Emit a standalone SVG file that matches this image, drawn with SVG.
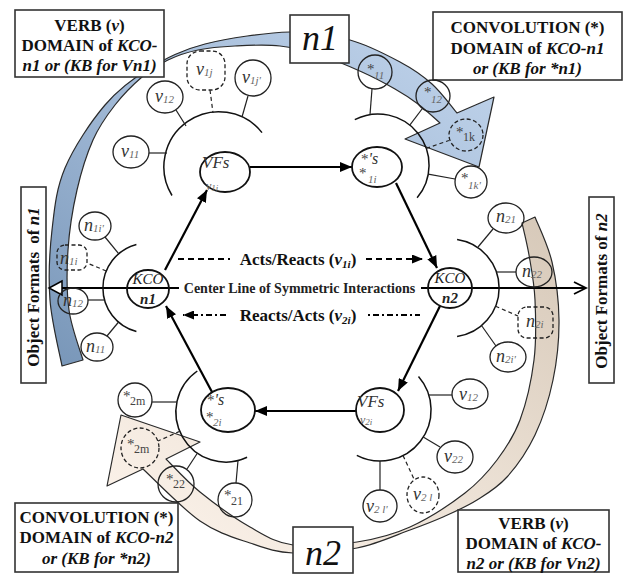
<svg xmlns="http://www.w3.org/2000/svg" width="624" height="574" viewBox="0 0 624 574">
<defs>
<linearGradient id="gb" x1="0" y1="1" x2="1" y2="0"><stop offset="0" stop-color="#7896b8"/><stop offset="0.5" stop-color="#a2bad7"/><stop offset="1" stop-color="#c2d5ec"/></linearGradient>
<linearGradient id="gt" x1="1" y1="0" x2="0" y2="1"><stop offset="0" stop-color="#d6c8b8"/><stop offset="0.5" stop-color="#ece1d5"/><stop offset="1" stop-color="#fdf4ec"/></linearGradient>
<marker id="ah" markerUnits="userSpaceOnUse" markerWidth="12" markerHeight="10" refX="12" refY="5" orient="auto"><path d="M0,0 L12,5 L0,10 z" fill="#000"/></marker>
<marker id="ahs" markerUnits="userSpaceOnUse" markerWidth="11" markerHeight="9" refX="11" refY="4.5" orient="auto"><path d="M0,0 L11,4.5 L0,9 z" fill="#000"/></marker>
<style>
.bx{fill:#fff;stroke:#333;stroke-width:1.6}
.bt{font-family:"Liberation Serif","Times New Roman",serif;font-weight:bold;font-size:17px;fill:#111;text-anchor:middle}
.it{font-style:italic}
.sat{fill:none;stroke:#222;stroke-width:1.3}
.dsat{fill:none;stroke:#222;stroke-width:1.3;stroke-dasharray:4 2.5}
.ln{fill:none;stroke:#222;stroke-width:1.2}
.dln{fill:none;stroke:#222;stroke-width:1.2;stroke-dasharray:4 3}
.arc{fill:none;stroke:#111;stroke-width:1.5}
.hex{fill:none;stroke:#111;stroke-width:1.8}
.ar{fill:none;stroke:#000;stroke-width:2.2;marker-end:url(#ah)}
.lab{font-family:"Liberation Serif","Times New Roman",serif;font-style:italic;font-size:18px;fill:#333}
.sub{font-size:11px;fill:#666}
.st{font-family:"Liberation Serif","Times New Roman",serif;font-size:15px;fill:#444}
.sts{font-family:"Liberation Serif","Times New Roman",serif;font-size:11px;font-style:italic;fill:#666}
.mt{font-family:"Liberation Serif","Times New Roman",serif;font-weight:bold;font-size:17px;fill:#111;text-anchor:middle}
.band{stroke:#2a2a2a;stroke-width:1.2;stroke-linejoin:round}
</style>
</defs>
<rect width="624" height="574" fill="#fff"/>

<g id="bands">
<path class="band" fill="url(#gb)" d="M 62,366 C 60,355 51.7,322.7 50,300 C 48.3,277.3 49.5,252 52,230 C 54.5,208 56.2,188.8 65,168 C 73.8,147.2 90.8,121.7 105,105 C 119.2,88.3 133.3,78.2 150,68 C 166.7,57.8 181.7,50 205,44 C 228.3,38 265.8,32.7 290,32 C 314.2,31.3 331.7,35 350,40 C 368.3,45 386.3,54.7 400,62 C 413.7,69.3 422.5,75.5 432,84 C 441.5,92.5 452.8,108.2 457,113 L 494,97 L 479,167 L 405,139 L 440,123 C 436.3,119.8 425.5,109.7 418,104 C 410.5,98.3 404.3,94.3 395,89 C 385.7,83.7 374.2,77.5 362,72 C 349.8,66.5 335.7,60.3 322,56 C 308.3,51.7 294.5,47.7 280,46 C 265.5,44.3 248.7,45.3 235,46 C 221.3,46.7 209.2,47.7 198,50 C 186.8,52.3 177.3,55.5 168,60 C 158.7,64.5 150.8,69.5 142,77 C 133.2,84.5 123.2,94.5 115,105 C 106.8,115.5 99.3,125.8 93,140 C 86.7,154.2 81.2,171.7 77,190 C 72.8,208.3 69.3,230 68,250 C 66.7,270 66.5,291.7 69,310 C 71.5,328.3 80.7,351.7 83,360 Z"/>
<path class="band" fill="url(#gt)" d="M 535,217 C 537.8,224.5 548,244.8 552,262 C 556,279.2 558.8,300.3 559,320 C 559.2,339.7 557,360.8 553,380 C 549,399.2 542.7,418.8 535,435 C 527.3,451.2 516.7,466.2 507,477 C 497.3,487.8 487.7,493.3 477,500 C 466.3,506.7 454.2,512 443,517 C 431.8,522 424.3,524.8 410,530 C 395.7,535.2 376.5,544.2 357,548 C 337.5,551.8 310.8,553.8 293,553 C 275.2,552.2 265.5,548.3 250,543 C 234.5,537.7 217.8,533.3 200,521 C 182.2,508.7 152.5,477.7 143,469 L 107,486 L 121,415 L 200,442 L 166,459 C 171.7,464.5 186,480.7 200,492 C 214,503.3 234.5,518.2 250,527 C 265.5,535.8 275.2,542.5 293,545 C 310.8,547.5 337.5,545 357,542 C 376.5,539 392,535.2 410,527 C 428,518.8 450.5,504.2 465,493 C 479.5,481.8 487.8,472.2 497,460 C 506.2,447.8 513.8,436.7 520,420 C 526.2,403.3 531.5,380 534,360 C 536.5,340 535.8,317.5 535,300 C 534.2,282.5 531.2,267.8 529,255 C 526.8,242.2 523.2,228.3 522,223 Z"/>
</g>

<g id="box-verb-n1">
<rect class="bx" x="15" y="10" width="149" height="67"/>
<text class="bt" x="89.5" y="31">VERB (<tspan class="it">v</tspan>)</text>
<text class="bt" x="89.5" y="51">DOMAIN of <tspan class="it">KCO-</tspan></text>
<text class="bt it" x="89.5" y="71">n1 or (KB for Vn1)</text>
</g>
<g id="box-conv-n1">
<rect class="bx" x="433" y="12" width="189" height="68"/>
<text class="bt" x="527.5" y="33">CONVOLUTION (*)</text>
<text class="bt" x="527.5" y="54">DOMAIN of <tspan class="it">KCO-n1</tspan></text>
<text class="bt it" x="527.5" y="74">or (KB  for *n1)</text>
</g>
<g id="box-conv-n2">
<rect class="bx" x="15" y="503" width="163" height="69"/>
<text class="bt" x="96.5" y="523">CONVOLUTION (*)</text>
<text class="bt" x="96.5" y="543">DOMAIN of <tspan class="it">KCO-n2</tspan></text>
<text class="bt it" x="96.5" y="564">or (KB for *n2)</text>
</g>
<g id="box-verb-n2">
<rect class="bx" x="458" y="510" width="151" height="62"/>
<text class="bt" x="533.5" y="529">VERB (<tspan class="it">v</tspan>)</text>
<text class="bt" x="533.5" y="549">DOMAIN of <tspan class="it">KCO-</tspan></text>
<text class="bt it" x="533.5" y="569">n2 or (KB for Vn2)</text>
</g>
<g id="box-n1">
<rect class="bx" x="290" y="15" width="59" height="48"/>
<text x="320" y="50" font-family="Liberation Serif, serif" font-style="italic" font-size="36" text-anchor="middle" fill="#111">n1</text>
</g>
<g id="box-n2">
<rect class="bx" x="293" y="527" width="60" height="46"/>
<text x="323" y="565" font-family="Liberation Serif, serif" font-style="italic" font-size="36" text-anchor="middle" fill="#111">n2</text>
</g>
<g id="box-objects-n1">
<rect class="bx" x="21" y="187" width="25" height="196"/>
<text class="bt" x="39" y="287" transform="rotate(-90 39 287)">Object Formats <tspan dx="4">of</tspan> <tspan class="it">n1</tspan></text>
</g>
<g id="box-objects-n2">
<rect class="bx" x="589" y="197" width="25" height="186"/>
<text class="bt" x="607" y="291" transform="rotate(-90 607 291)">Object Formats of <tspan class="it">n2</tspan></text>
</g>

<g id="connectors">
<line x1="50" y1="288" x2="586" y2="288" stroke="#000" stroke-width="2"/>
<path d="M 62,281 L 49,288 L 62,295 Z" fill="#fff" stroke="#000" stroke-width="1.5"/>
<path d="M 574,282 L 586,288 L 574,294" fill="none" stroke="#000" stroke-width="1.8"/>
<rect x="179" y="280" width="242" height="15" fill="#fff"/>
<text x="299.5" y="293" font-family="Liberation Serif, serif" font-weight="bold" font-size="14" text-anchor="middle" fill="#222">Center Line of Symmetric Interactions</text>
<line x1="178" y1="259" x2="230" y2="259" stroke="#000" stroke-width="2" stroke-dasharray="6 4"/>
<line x1="366" y1="259" x2="423" y2="259" stroke="#000" stroke-width="2" stroke-dasharray="6 4" marker-end="url(#ahs)"/>
<text class="mt" x="298" y="265">Acts/Reacts (<tspan class="it">v</tspan><tspan class="it" font-size="11" dy="3">1i</tspan><tspan dy="-3">)</tspan></text>
<line x1="226" y1="315" x2="183" y2="315" stroke="#000" stroke-width="2" stroke-dasharray="6 3 2 3" marker-end="url(#ahs)"/>
<line x1="368" y1="315" x2="420" y2="315" stroke="#000" stroke-width="2" stroke-dasharray="2 3 6 3"/>
<text class="mt" x="298" y="321">Reacts/Acts (<tspan class="it">v</tspan><tspan class="it" font-size="11" dy="3">2i</tspan><tspan dy="-3">)</tspan></text>
<line class="ar" x1="165" y1="270" x2="207" y2="190"/>
<line class="ar" x1="250" y1="167" x2="352" y2="167"/>
<line class="ar" x1="396" y1="183" x2="437" y2="268"/>
<line class="ar" x1="440" y1="306" x2="398" y2="391"/>
<line class="ar" x1="356" y1="411" x2="255" y2="411"/>
<line class="ar" x1="212" y1="392" x2="166" y2="306"/>
<path class="arc" d="M 172,195.5 A 55,55 0 0 1 262,132.6"/>
<path class="arc" d="M 354.8,119.6 A 51,51 0 0 1 417.1,197.8"/>
<path class="arc" d="M 457.1,239.5 A 49,49 0 0 1 457.1,336.5"/>
<path class="arc" d="M 418.5,376.5 A 51,51 0 0 1 356.8,455.4"/>
<path class="arc" d="M 247.1,457.3 A 50,50 0 0 1 197.3,371"/>
<path class="arc" d="M 136.4,331.5 A 45,45 0 0 1 136.4,244.5"/>
<line class="ln" x1="149" y1="153" x2="167" y2="153"/>
<line class="ln" x1="176" y1="110" x2="186" y2="126"/>
<line class="dln" x1="210" y1="90" x2="213" y2="113"/>
<line class="ln" x1="248" y1="96" x2="242" y2="117"/>
<line class="ln" x1="372" y1="89" x2="370" y2="114.6"/>
<line class="ln" x1="422.4" y1="108.5" x2="409.8" y2="125.1"/>
<line class="dln" x1="426.2" y1="148.4" x2="448.9" y2="140.5"/>
<line class="ln" x1="428.2" y1="174.2" x2="455" y2="179"/>
<line class="ln" x1="478" y1="247" x2="493" y2="229"/>
<line class="ln" x1="496.3" y1="272" x2="516" y2="272"/>
<line class="dln" x1="495.5" y1="306.2" x2="518" y2="316"/>
<line class="ln" x1="481.5" y1="325.5" x2="496" y2="346"/>
<line class="ln" x1="428.7" y1="395" x2="452" y2="395"/>
<line class="ln" x1="423.2" y1="437.1" x2="440" y2="447"/>
<line class="dln" x1="403" y1="455.5" x2="414" y2="479"/>
<line class="ln" x1="380" y1="461" x2="380" y2="490"/>
<line class="ln" x1="152" y1="402" x2="177" y2="402"/>
<line class="dln" x1="179.9" y1="431.3" x2="158" y2="441"/>
<line class="ln" x1="197.5" y1="453" x2="187" y2="469"/>
<line class="ln" x1="238" y1="460.5" x2="236" y2="483"/>
<line class="ln" x1="118.8" y1="253.8" x2="105" y2="237"/>
<line class="dln" x1="106.3" y1="271" x2="87" y2="263"/>
<line class="ln" x1="88" y1="300" x2="104.6" y2="300"/>
<line class="ln" x1="118.6" y1="322" x2="107" y2="336"/>
</g>

<g id="kco-n1">
<ellipse class="hex" cx="148" cy="289" rx="21" ry="19"/>
<text class="lab" x="148" y="284" text-anchor="middle" style="font-size:15px;fill:#222">KCO</text>
<text class="lab" x="148" y="304" text-anchor="middle" style="font-size:15px;font-weight:bold;fill:#222">n1</text>
</g>
<g id="kco-n2">
<ellipse class="hex" cx="450" cy="288" rx="22" ry="20"/>
<text class="lab" x="450" y="283" text-anchor="middle" style="font-size:15px;fill:#222">KCO</text>
<text class="lab" x="450" y="303" text-anchor="middle" style="font-size:15px;font-weight:bold;fill:#222">n2</text>
</g>
<g id="vfs-v1i">
<ellipse class="hex" cx="225" cy="172" rx="25" ry="20"/>
<text class="lab" x="202" y="168" style="font-size:17px">VFs</text>
<text class="lab" x="206" y="190" style="font-size:12px;fill:#666">v<tspan font-size="9" dy="1">1i</tspan></text>
</g>
<g id="conv-1i">
<ellipse class="hex" cx="377" cy="167" rx="25" ry="20"/>
<text class="st" x="361" y="164">*<tspan class="lab" style="font-size:16px">'s</tspan><tspan x="359" y="178">*</tspan><tspan class="sts" x="368" y="183">1i</tspan></text>
</g>
<g id="vfs-v2i">
<ellipse class="hex" cx="380" cy="410" rx="24" ry="22"/>
<text class="lab" x="357" y="407" style="font-size:17px">VFs</text>
<text class="lab" x="360" y="424" style="font-size:12px;fill:#666">v<tspan font-size="9" dy="1">2i</tspan></text>
</g>
<g id="conv-2i">
<ellipse class="hex" cx="228" cy="410" rx="27" ry="22"/>
<text class="st" x="207" y="405">*<tspan class="lab" style="font-size:16px">'s</tspan><tspan x="206" y="422">*</tspan><tspan class="sts" x="213" y="426">2i</tspan></text>
</g>

<g id="v11"><ellipse class="sat" cx="131" cy="152" rx="18" ry="16"/><text class="lab" x="121" y="157">v<tspan class="sub" dy="1">11</tspan></text></g>
<g id="v12a"><ellipse class="sat" cx="165" cy="97" rx="18" ry="16"/><text class="lab" x="155" y="102">v<tspan class="sub" dy="1">12</tspan></text></g>
<g id="v1j"><rect class="dsat" x="187" y="51" width="38" height="39" rx="13"/><text class="lab" x="196" y="75">v<tspan class="sub" dy="1">1j</tspan></text></g>
<g id="v1jp"><ellipse class="sat" cx="253" cy="78" rx="18" ry="18"/><text class="lab" x="242" y="83">v<tspan class="sub" dy="1">1j'</tspan></text></g>

<g id="s11"><ellipse class="sat" cx="375" cy="72" rx="17" ry="17"/><text class="st" x="367" y="74">*<tspan class="sts" x="374" y="79">11</tspan></text></g>
<g id="s12"><ellipse class="sat" cx="433" cy="96" rx="17" ry="16"/><text class="st" x="424" y="97">*<tspan class="sts" x="431" y="103">12</tspan></text></g>
<g id="s1k"><ellipse class="dsat" cx="466" cy="135" rx="17" ry="16"/><text class="st" x="456" y="137">*<tspan x="463" y="141" style="font-size:12px">1k</tspan></text></g>
<g id="s1kp"><ellipse class="sat" cx="471" cy="182" rx="16" ry="16"/><text class="st" x="461" y="183">*<tspan class="sts" x="468" y="189">1k'</tspan></text></g>

<g id="n21"><ellipse class="sat" cx="506" cy="218" rx="18" ry="15"/><text class="lab" x="496" y="222">n<tspan class="sub" dy="1">21</tspan></text></g>
<g id="n22"><ellipse class="sat" cx="534" cy="272" rx="18" ry="15"/><text class="lab" x="522" y="277">n<tspan class="sub" dy="1">22</tspan></text></g>
<g id="n2i"><rect class="dsat" x="518" y="307" width="35" height="31" rx="9"/><text class="lab" x="526" y="327">n<tspan class="sub" dy="1">2i</tspan></text></g>
<g id="n2ip"><ellipse class="sat" cx="508" cy="357" rx="18" ry="15"/><text class="lab" x="496" y="362">n<tspan class="sub" dy="1">2i'</tspan></text></g>

<g id="v12b"><ellipse class="sat" cx="470" cy="394" rx="18" ry="15"/><text class="lab" x="459" y="400">v<tspan class="sub" dy="1">12</tspan></text></g>
<g id="v22"><ellipse class="sat" cx="455" cy="457" rx="18" ry="16"/><text class="lab" x="444" y="462">v<tspan class="sub" dy="1">22</tspan></text></g>
<g id="v2l"><ellipse class="dsat" cx="423" cy="495" rx="16" ry="18"/><text class="lab" x="413" y="500">v<tspan class="sub" dy="1">2 l</tspan></text></g>
<g id="v2lp"><ellipse class="sat" cx="380" cy="506" rx="17" ry="16"/><text class="lab" x="366" y="512">v<tspan class="sub" dy="1">2 l'</tspan></text></g>

<g id="s2m"><ellipse class="sat" cx="135" cy="400" rx="17" ry="17"/><text class="st" x="123" y="401">*<tspan x="130" y="405" style="font-size:12px">2m</tspan></text></g>
<g id="s2md"><ellipse class="dsat" cx="140" cy="448" rx="19" ry="20"/><text class="st" x="127" y="449">*<tspan x="134" y="453" style="font-size:12px">2m</tspan></text></g>
<g id="s22"><ellipse class="sat" cx="176" cy="484" rx="18" ry="18"/><text class="st" x="166" y="484">*<tspan x="173" y="488" style="font-size:12px">22</tspan></text></g>
<g id="s21"><ellipse class="sat" cx="235" cy="500" rx="17" ry="17"/><text class="st" x="224" y="500">*<tspan x="231" y="505" style="font-size:12px">21</tspan></text></g>

<g id="n1ip"><ellipse class="sat" cx="95" cy="226" rx="16" ry="14"/><text class="lab" x="84" y="231">n<tspan class="sub" dy="1">1i'</tspan></text></g>
<g id="n1i"><rect class="dsat" x="57" y="245" width="30" height="25" rx="8"/><text class="lab" x="60" y="264">n<tspan class="sub" dy="1">1i</tspan></text></g>
<g id="n12"><ellipse class="sat" cx="73" cy="301" rx="15" ry="13"/><text class="lab" x="63" y="306">n<tspan class="sub" dy="1">12</tspan></text></g>
<g id="n11"><ellipse class="sat" cx="97" cy="347" rx="16" ry="14"/><text class="lab" x="86" y="352">n<tspan class="sub" dy="1">11</tspan></text></g>
</svg>
